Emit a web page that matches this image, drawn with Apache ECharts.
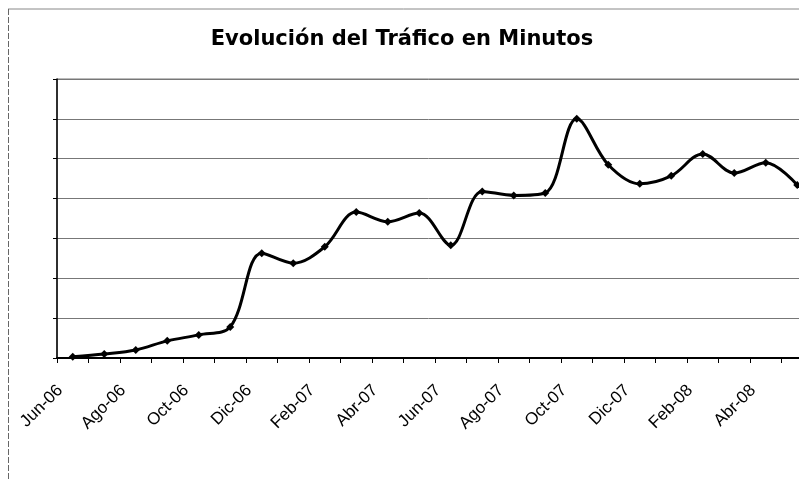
<!DOCTYPE html>
<html>
  <head>
    <meta charset="utf-8" />
    <title>Evolución del Tráfico en Minutos</title>
    <script src="https://cdn.jsdelivr.net/npm/echarts@6.0.0/dist/echarts.min.js"></script>
    <style>
      html, body { margin: 0; padding: 0; background: #fff; }
    </style>
  </head>
  <body>
    <div id="main" style="width: 799px;height:481px;"></div>

    <script type="text/javascript">
      // months Jun-06 .. May-08
      var months = ['Jun-06', 'Jul-06', 'Ago-06', 'Sep-06', 'Oct-06', 'Nov-06',
                    'Dic-06', 'Ene-07', 'Feb-07', 'Mar-07', 'Abr-07', 'May-07',
                    'Jun-07', 'Jul-07', 'Ago-07', 'Sep-07', 'Oct-07', 'Nov-07',
                    'Dic-07', 'Ene-08', 'Feb-08', 'Mar-08', 'Abr-08', 'May-08'];
      // traffic (no scale shown on the original, values in grid units)
      var minutos = [0.03, 0.10, 0.20, 0.43, 0.58, 0.78,
                     2.63, 2.38, 2.79, 3.66, 3.42, 3.64,
                     2.83, 4.18, 4.08, 4.14, 6.00, 4.85,
                     4.37, 4.57, 5.12, 4.64, 4.90, 4.34];

      var myChart = echarts.init(document.getElementById('main'));

      var option = {
        animation: false,
        backgroundColor: '#fff',
        title: {
          text: 'Evolución del Tráfico en Minutos',
          left: 397,
          textAlign: 'center',
          top: 24,
          textStyle: {
            fontFamily: 'DejaVu Sans',
            fontWeight: 'bold',
            fontSize: 21,
            color: '#000'
          }
        },
        graphic: [
          // outer chart border (partly cut off by the window)
          { type: 'line', shape: { x1: 8, y1: 9, x2: 799, y2: 9 }, style: { stroke: '#888', lineWidth: 1 } },
          { type: 'line', shape: { x1: 8.5, y1: 9, x2: 8.5, y2: 481 }, style: { stroke: '#666', lineWidth: 1, lineDash: [6, 2] } }
        ],
        grid: {
          left: 57,
          top: 79,
          bottom: 123,
          width: 756,
          containLabel: false,
          outerBoundsMode: 'none',
          show: true,
          borderColor: '#777',
          borderWidth: 1
        },
        xAxis: {
          type: 'category',
          data: months,
          boundaryGap: true,
          axisLine: { lineStyle: { color: '#000', width: 2 } },
          axisTick: { show: true, interval: 0, length: 5, lineStyle: { color: '#000' } },
          axisLabel: {
            interval: 1,
            rotate: 45,
            margin: 17,
            padding: [0, 18, 0, 0],
            fontFamily: 'Liberation Sans',
            fontSize: 17,
            color: '#000'
          },
          splitLine: { show: false }
        },
        yAxis: {
          type: 'value',
          min: 0,
          max: 7,
          interval: 1,
          axisLine: { show: true, lineStyle: { color: '#000', width: 1.5 } },
          axisTick: { show: true, length: 4, lineStyle: { color: '#000' } },
          axisLabel: { show: false },
          splitLine: { show: true, lineStyle: { color: '#777', width: 1 } }
        },
        series: [
          {
            name: 'Minutos',
            type: 'line',
            data: minutos,
            smooth: 0.35,
            symbol: 'diamond',
            symbolSize: 8,
            lineStyle: { color: '#000', width: 3 },
            itemStyle: { color: '#000' }
          }
        ]
      };

      myChart.setOption(option);
    </script>
  </body>
</html>
